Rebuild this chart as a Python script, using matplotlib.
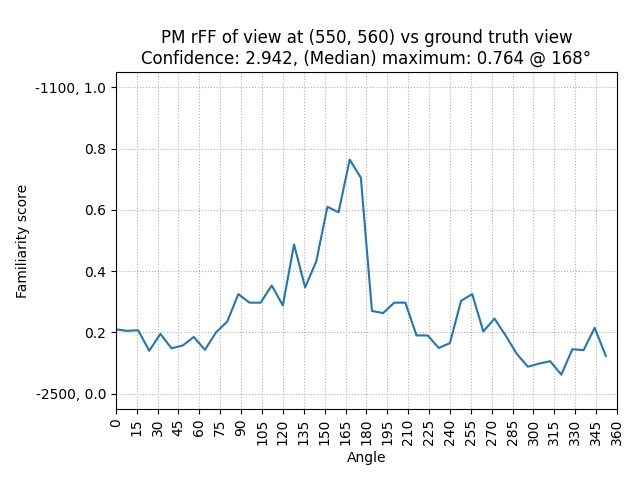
import matplotlib
matplotlib.use("Agg")
import matplotlib.pyplot as plt
import numpy as np

angles = list(range(0, 360, 8))
scores = [0.21, 0.205, 0.207, 0.14, 0.195, 0.148, 0.157, 0.185, 0.143, 0.2,
          0.235, 0.325, 0.297, 0.297, 0.353, 0.288, 0.487, 0.347, 0.432, 0.61,
          0.592, 0.764, 0.705, 0.27, 0.263, 0.297, 0.297, 0.19, 0.19, 0.149,
          0.165, 0.303, 0.325, 0.203, 0.245, 0.19, 0.13, 0.088, 0.098, 0.106,
          0.062, 0.145, 0.142, 0.215, 0.123]
ytick_vals = [0.0, 0.2, 0.4, 0.6, 0.8, 1.0]
ytick_labels = ["-2500, 0.0", "0.2", "0.4", "0.6", "0.8", "-1100, 1.0"]

fig, ax = plt.subplots(figsize=(6.4, 4.8), dpi=100)
ax.plot(angles, scores)
ax.set_xlim(0, 360)
ax.set_ylim(-0.05, 1.05)
ax.set_xticks(range(0, 361, 15))
ax.tick_params(axis='x', labelrotation=90)
ax.set_yticks(ytick_vals)
ax.set_yticklabels(ytick_labels)
ax.grid(True, linestyle=':')
ax.set_xlabel("Angle")
ax.set_ylabel("Familiarity score")
ax.set_title("PM rFF of view at (550, 560) vs ground truth view\nConfidence: 2.942, (Median) maximum: 0.764 @ 168°")
fig.subplots_adjust(left=0.181, right=0.964, top=0.85, bottom=0.148)
fig.savefig("out.png")
